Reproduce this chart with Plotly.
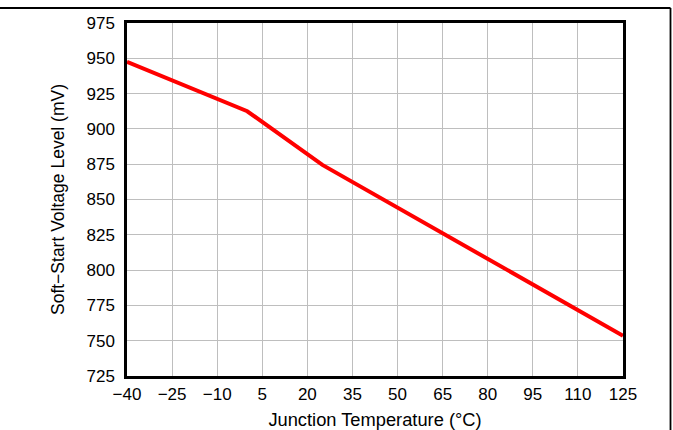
import plotly.graph_objects as go

temps = [-40, 0, 25, 85, 125]
soft_start_mv = [947.5, 912.5, 874.5, 802, 753.5]

x_ticks = [-40, -25, -10, 5, 20, 35, 50, 65, 80, 95, 110, 125]
x_tick_text = ["\u221240", "\u221225", "\u221210", "5", "20", "35", "50", "65", "80", "95", "110", "125"]
y_ticks = [725, 750, 775, 800, 825, 850, 875, 900, 925, 950, 975]

font_family = "Liberation Sans, Arial, sans-serif"

fig = go.Figure()
fig.add_trace(go.Scatter(
    x=temps, y=soft_start_mv, mode="lines",
    line=dict(color="#ff0000", width=4),
    showlegend=False, hoverinfo="skip",
))

axis_common = dict(
    showgrid=True, gridcolor="#bebebe", gridwidth=1.3,
    showline=True, linecolor="black", linewidth=2.5, mirror=True,
    ticks="", zeroline=False, automargin=False,
    tickfont=dict(family=font_family, size=17, color="black"),
)

fig.update_xaxes(
    range=[-40, 125], tickvals=x_ticks, ticktext=x_tick_text,
    title=dict(text="Junction Temperature (\u00b0C)", font=dict(family=font_family, size=18.3, color="black"), standoff=19),
    ticklabelstandoff=1,
    **axis_common,
)
fig.update_yaxes(
    range=[725, 975], tickvals=y_ticks,
    title=dict(text="Soft\u2212Start Voltage Level (mV)", font=dict(family=font_family, size=17.5, color="black"), standoff=18),
    ticklabelstandoff=6,
    **axis_common,
)

# page frame lines (top rule and right rule of the surrounding page)
W, H = 673, 430
L, R, T, B = 127, 50, 23, 54
pw, ph = W - L - R, H - T - B
fx = (670.5 - L) / pw
fy_top = 1 + (T - 8) / ph
fy_bot = -(B + 5) / ph
fx0 = -(L + 5) / pw
fig.add_shape(type="line", xref="paper", yref="paper", x0=fx0, x1=fx, y0=fy_top, y1=fy_top,
              line=dict(color="black", width=1.8), layer="above")
fig.add_shape(type="line", xref="paper", yref="paper", x0=fx, x1=fx, y0=fy_top, y1=fy_bot,
              line=dict(color="black", width=1.8), layer="above")

fig.update_layout(
    width=W, height=H,
    margin=dict(l=L, r=R, t=T, b=B),
    paper_bgcolor="white", plot_bgcolor="white",
    font=dict(family=font_family, color="black"),
)

fig.write_html(
    "out.html",
    config={"displayModeBar": False},
    post_script="document.body.style.margin='0';document.body.style.overflow='hidden';",
)
